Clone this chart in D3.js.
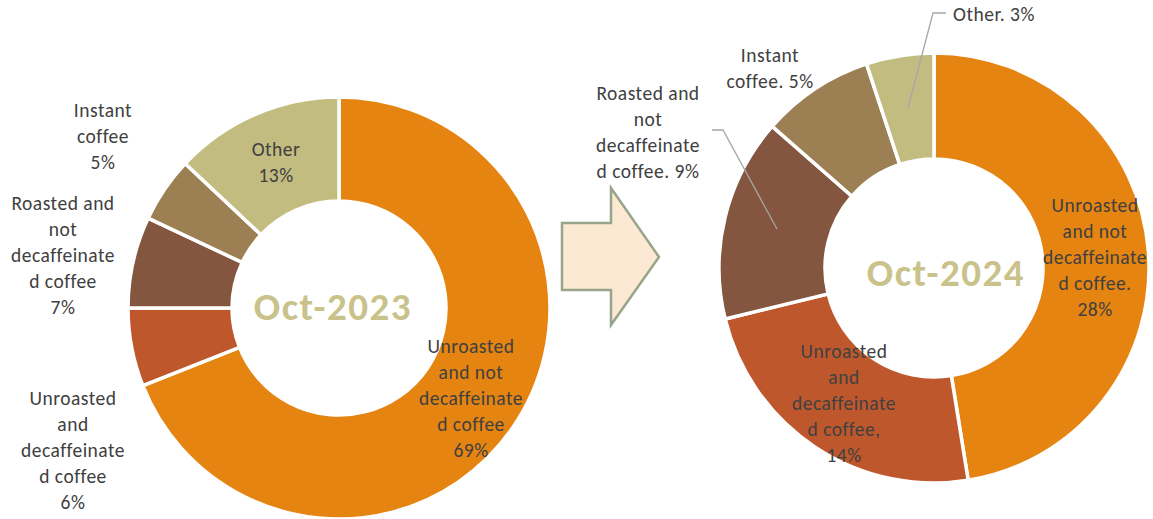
<!DOCTYPE html>
<html><head><meta charset="utf-8">
<script src="https://cdn.jsdelivr.net/npm/d3@7"></script>
<style>
html,body{margin:0;padding:0;background:#fff;}
svg{display:block;}
</style></head>
<body>
<svg id="chart" width="1153" height="519"></svg>
<script>
// ---- data ----
const categories = [
  "Unroasted and not decaffeinated coffee",
  "Unroasted and decaffeinated coffee",
  "Roasted and not decaffeinated coffee",
  "Instant coffee",
  "Other"
];
const values2023 = [69, 6, 7, 5, 13];
const values2024 = [28, 14, 9, 5, 3];
const titles = ["Oct-2023", "Oct-2024"];
const labels2023 = [
  ["Unroasted", "and not", "decaffeinate", "d coffee", "69%"],
  ["Unroasted", "and", "decaffeinate", "d coffee", "6%"],
  ["Roasted and", "not", "decaffeinate", "d coffee", "7%"],
  ["Instant", "coffee", "5%"],
  ["Other", "13%"]
];
const labels2024 = [
  ["Unroasted", "and not", "decaffeinate", "d coffee.", "28%"],
  ["Unroasted", "and", "decaffeinate", "d coffee,", "14%"],
  ["Roasted and", "not", "decaffeinate", "d coffee. 9%"],
  ["Instant", "coffee. 5%"],
  ["Other. 3%"]
];

// ---- layout / style ----
const colors = ["#E58411", "#BE582C", "#845640", "#9C8054", "#C3BC80"];
const FONT = "Carlito, Calibri, Lato, 'Open Sans', sans-serif";
const LINE = 26;
const charts = [
  { cx: 339, cy: 308, r: 211, ir: 107, values: values2023, labels: labels2023, title: titles[0],
    titleDx: -6, titleDy: 12,
    lab: [[132, 45], [-266, 97], [-276, -98], [-236, -191], [-63, -152]],
    leaders: [] },
  { cx: 934, cy: 268, r: 215, ir: 109, values: values2024, labels: labels2024, title: titles[1],
    titleDx: 12, titleDy: 18,
    lab: [[161, -56], [-90, 90], [-286, -168], [-164, -206], [19, -247]],
    anchors: ["middle","middle","middle","middle","start"],
    leaders: [
      { idx: 2, pts: [[-222, -138], [-211, -138], [-157, -39]] },
      { idx: 4, pts: [[12, -255], [-1, -255], [-26, -160]] }
    ] }
];

const svg = d3.select("#chart");

charts.forEach(c => {
  const g = svg.append("g").attr("transform", `translate(${c.cx},${c.cy})`);
  const pie = d3.pie().sort(null).value(d => d)(c.values);
  const arc = d3.arc().innerRadius(c.ir).outerRadius(c.r);
  g.selectAll("path.slice").data(pie).join("path")
    .attr("class", "slice")
    .attr("d", arc)
    .attr("fill", (d, i) => colors[i])
    .attr("stroke", "#fff")
    .attr("stroke-width", 3.5)
    .attr("stroke-linejoin", "miter");

  c.leaders.forEach(l => {
    g.append("path")
      .attr("d", d3.line()(l.pts))
      .attr("fill", "none")
      .attr("stroke", "#A6A6A6")
      .attr("stroke-width", 1.3);
  });

  c.labels.forEach((lines, i) => {
    const t = g.append("text")
      .attr("x", c.lab[i][0]).attr("y", c.lab[i][1])
      .attr("text-anchor", c.anchors ? c.anchors[i] : "middle")
      .attr("font-family", FONT).attr("font-size", 19.5)
      .attr("letter-spacing", 0.5)
      .attr("fill", "#404040");
    lines.forEach((s, k) => {
      t.append("tspan").attr("x", c.lab[i][0]).attr("dy", k === 0 ? 0 : LINE).text(s);
    });
  });

  g.append("text")
    .attr("x", c.titleDx).attr("y", c.titleDy)
    .attr("text-anchor", "middle")
    .attr("font-family", FONT).attr("font-weight", "bold").attr("font-size", 39)
    .attr("letter-spacing", 1.5)
    .attr("fill", "#C9C28A")
    .text(c.title);
});

const arrowPts = [[562, 223], [611, 223], [611, 188], [659, 257], [611, 325], [611, 290], [562, 290]];
svg.append("path")
  .attr("d", d3.line()(arrowPts) + "Z")
  .attr("fill", "#FBE9D3")
  .attr("stroke", "#98A58A")
  .attr("stroke-width", 2.5)
  .attr("stroke-linejoin", "miter");
</script>
</body></html>
